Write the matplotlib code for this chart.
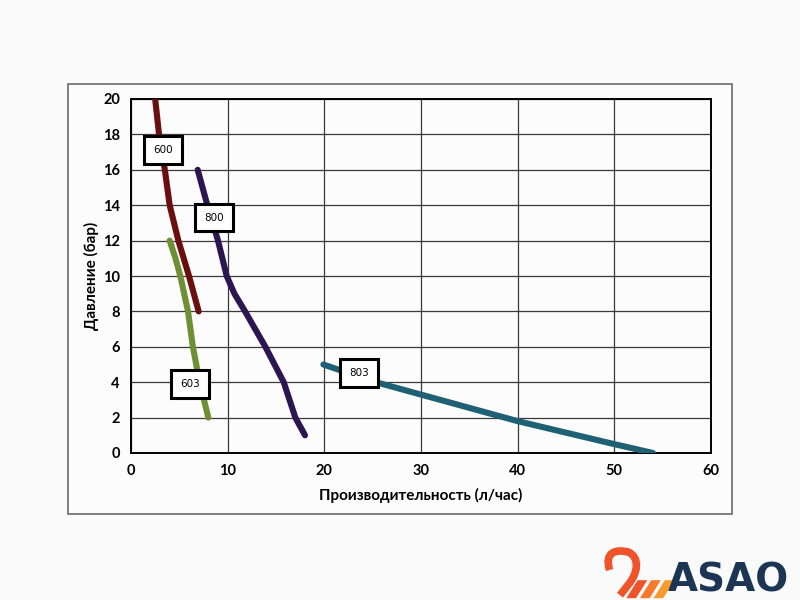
import matplotlib.pyplot as plt
from matplotlib.patches import Rectangle, Polygon
from matplotlib.path import Path
from matplotlib.patches import PathPatch

plt.rcParams['font.family'] = ['Lato', 'DejaVu Sans']

# pump curves: flow (l/h) vs pressure (bar)
x_600 = [2.5, 2.9, 3.5, 4.0, 4.9, 6.0, 7.0]
y_600 = [20, 18, 16, 14, 12, 10, 8]

x_603 = [4.0, 4.6, 5.1, 5.9, 6.4, 7.1, 8.0]
y_603 = [12, 11, 10, 8, 6, 4, 2]

x_800 = [6.9, 7.9, 9.0, 9.9, 10.7, 11.8, 13.9, 15.8, 17.0, 18.0]
y_800 = [16, 14, 12, 10, 9, 8, 6, 4, 2, 1]

x_803 = [19.9, 25, 30, 40, 50, 54]
y_803 = [5.0, 4.05, 3.3, 1.8, 0.5, 0.0]

labels = ['600', '800', '603', '803']
label_x = [3.3, 8.6, 6.1, 23.6]
label_y = [17.1, 13.3, 3.9, 4.5]

x_ticks = [0, 10, 20, 30, 40, 50, 60]
y_ticks = [0, 2, 4, 6, 8, 10, 12, 14, 16, 18, 20]

fig = plt.figure(figsize=(8, 6), dpi=100)
fig.patch.set_facecolor('#fafafa')

# outer frame of the chart area
fig.patches.append(Rectangle((0.085, 0.1433), 0.83, 0.7167, transform=fig.transFigure,
                             facecolor='#fcfcfc', edgecolor='#6a6a6a', linewidth=1.2,
                             zorder=-5))

ax = fig.add_axes([0.16375, 0.245, 0.725, 0.59])
ax.set_facecolor('#fcfcfc')

lw = 4.4
ax.plot(x_600, y_600, color='#6a0e0e', lw=lw, solid_capstyle='round',
        solid_joinstyle='round', zorder=3)
ax.plot(x_603, y_603, color='#6f8f35', lw=lw, solid_capstyle='round',
        solid_joinstyle='round', zorder=3)
ax.plot(x_800, y_800, color='#2c1550', lw=lw, solid_capstyle='round',
        solid_joinstyle='round', zorder=3)
ax.plot(x_803, y_803, color='#1f6174', lw=lw, solid_capstyle='round',
        solid_joinstyle='round', zorder=3)

for t, lx, ly in zip(labels, label_x, label_y):
    ax.text(lx, ly, t, fontsize=7.5, ha='center', va='center', zorder=5,
            family=['DejaVu Sans'],
            bbox=dict(boxstyle='square,pad=0.85', facecolor='white',
                      edgecolor='black', linewidth=2.2))

ax.set_xlim(0, 60)
ax.set_ylim(0, 20)
ax.set_xticks(x_ticks)
ax.set_yticks(y_ticks)
ax.grid(True, color='#3a3a3a', linewidth=0.9)
ax.set_axisbelow(True)
for s in ax.spines.values():
    s.set_color('black')
    s.set_linewidth(1.4)
ax.tick_params(length=0, labelsize=10.5, pad=8)
for lab in ax.get_xticklabels() + ax.get_yticklabels():
    lab.set_fontweight('bold')

ax.set_xlabel('Производительность (л/час)', fontsize=11, fontweight='bold', labelpad=7)
ax.set_ylabel('Давление (бар)', fontsize=11, fontweight='bold', labelpad=3)

# logo
fig.text(0.835, 0.0, 'ASAO', fontsize=28, fontweight='bold', color='#1d3554',
         ha='left', va='bottom', family=['DejaVu Sans'])
neck = Path([(0.762, 0.050), (0.755, 0.080), (0.770, 0.085), (0.785, 0.080),
             (0.800, 0.072), (0.798, 0.045), (0.785, 0.025), (0.775, 0.008)],
            [Path.MOVETO, Path.CURVE4, Path.CURVE4, Path.CURVE4,
             Path.CURVE4, Path.CURVE4, Path.CURVE4, Path.LINETO])
fig.patches.append(PathPatch(neck, transform=fig.transFigure, facecolor='none',
                             edgecolor='#f0522a', linewidth=5.5, capstyle='butt'))
for i, c in enumerate(['#f0522a', '#f57a2c', '#f89a2e']):
    x0 = 0.783 + i * 0.017
    fig.patches.append(Polygon([(x0, 0.003), (x0 + 0.012, 0.003), (x0 + 0.026, 0.033),
                                (x0 + 0.014, 0.033)], closed=True,
                               transform=fig.transFigure, facecolor=c, edgecolor='none'))

fig.savefig('out.png', dpi=100, facecolor=fig.get_facecolor())
